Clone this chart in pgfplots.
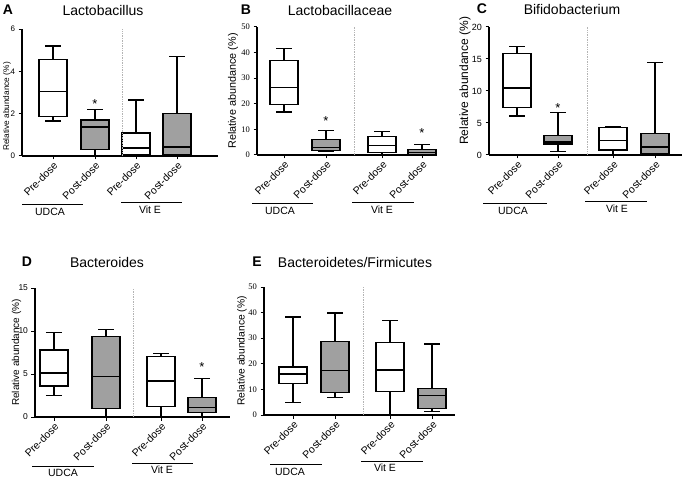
\documentclass[border=0pt]{standalone}
\usepackage{fontspec}
\setmainfont{Liberation Sans}
\newfontfamily\tnr{Liberation Serif}
\usepackage{pgfplots}
\pgfplotsset{compat=1.18}
\usepgfplotslibrary{statistics}
\definecolor{boxgray}{HTML}{A0A0A0}
\definecolor{sepgray}{HTML}{B4B4B4}
\newcommand\fs[1]{\fontsize{#1}{#1}\selectfont}

\tikzset{sepline/.style={sepgray, densely dotted, line width=0.7pt},
  star/.style={font=\fs{13}, inner sep=0pt}}
\pgfplotsset{
  panel/.style={
    scale only axis, anchor=south west, clip=false,
    axis x line=bottom, axis y line=left,
    axis line style={-, line width=1.3pt, black},
    ymin=0, tick align=outside, major tick length=3.5pt,
    tick style={black, line width=1pt},
    /pgf/number format/assume math mode=true,
    xticklabels={Pre-dose,Post-dose,Pre-dose,Post-dose},
    xticklabel style={rotate=45, anchor=north east, font=\fs{10.5}, inner sep=1pt},
    ylabel={Relative abundance (\%)},
    boxplot/draw direction=y,
    boxplot/box extend=2.8,
    boxplot/whisker extend=1.6,
    boxplot/every median/.style={line width=1.5pt},
  },
  wbox/.style={draw=black, fill=white, line width=1.3pt},
  gbox/.style={draw=black, fill=boxgray, line width=1.3pt},
}

\begin{document}
\begin{tikzpicture}
\path[use as bounding box] (0,0) rectangle (685pt,-478pt);

% A: Lactobacillus (x in tenths of a pixel column)
\begin{axis}[panel, at={(22pt,-156pt)}, width=196pt, height=127pt,
  xmin=2.2, xmax=21.8, ymax=6, ytick={0,2,4,6}, xtick={5.3,9.5,13.6,17.7},
  yticklabel style={font=\fs{8}},
  ylabel style={at={(axis description cs:-0.077,0.39)}, anchor=center, font=\fs{8.3}}]
\addplot+[wbox, boxplot prepared={draw position=5.3, lower whisker=1.65, lower quartile=1.88, median=3.05, upper quartile=4.55, upper whisker=5.2}] coordinates {};
\addplot+[gbox, boxplot prepared={draw position=9.5, lower whisker=0, lower quartile=0.32, median=1.38, upper quartile=1.70, upper whisker=2.2}] coordinates {};
\addplot+[wbox, boxplot prepared={draw position=13.6, lower whisker=0, lower quartile=0.08, median=0.38, upper quartile=1.08, upper whisker=2.65}] coordinates {};
\addplot+[gbox, boxplot prepared={draw position=17.7, lower whisker=0, lower quartile=0.05, median=0.42, upper quartile=2.02, upper whisker=4.7}] coordinates {};
\draw[sepline] (axis cs:12.2,0) -- (axis cs:12.2,6);
\node[star] at (axis cs:9.5,2.45) {*};
\end{axis}

% B: Lactobacillaceae
\begin{axis}[panel, at={(257pt,-155pt)}, width=180pt, height=128pt,
  xmin=25.7, xmax=43.7, ymax=50, ytick={0,10,...,50}, xtick={28.4,32.6,38.2,42.2},
  yticklabel style={font=\tnr\fs{8.5}},
  ylabel style={at={(axis description cs:-0.133,0.5)}, anchor=center, font=\fs{10.8}}]
\addplot+[wbox, boxplot prepared={draw position=28.4, lower whisker=16.8, lower quartile=19.7, median=26.4, upper quartile=36.8, upper whisker=41.5}] coordinates {};
\addplot+[gbox, boxplot prepared={draw position=32.6, lower whisker=1.5, lower quartile=1.8, median=3.0, upper quartile=6.0, upper whisker=9.5}] coordinates {};
\addplot+[wbox, boxplot prepared={draw position=38.2, lower whisker=0, lower quartile=1.0, median=3.7, upper quartile=7.3, upper whisker=9.1}] coordinates {};
\addplot+[gbox, boxplot prepared={draw position=42.2, lower whisker=0, lower quartile=0.3, median=1.0, upper quartile=2.2, upper whisker=4.0}] coordinates {};
\draw[sepline] (axis cs:35.4,0) -- (axis cs:35.4,50);
\node[star] at (axis cs:32.6,13.3) {*};
\node[star] at (axis cs:42.2,8.6) {*};
\end{axis}

% C: Bifidobacterium
\begin{axis}[panel, at={(489pt,-155pt)}, width=193pt, height=128pt,
  xmin=48.9, xmax=68.2, ymax=20, ytick={0,5,...,20}, xtick={51.7,55.8,61.3,65.5},
  yticklabel style={font=\fs{9}},
  ylabel style={at={(axis description cs:-0.124,0.58)}, anchor=center, font=\fs{12}}]
\addplot+[wbox, boxplot prepared={draw position=51.7, lower whisker=6.1, lower quartile=7.4, median=10.5, upper quartile=15.9, upper whisker=17.0}] coordinates {};
\addplot+[gbox, boxplot prepared={draw position=55.8, lower whisker=0.5, lower quartile=1.7, median=2.0, upper quartile=3.0, upper whisker=6.6}] coordinates {};
\addplot+[wbox, boxplot prepared={draw position=61.3, lower whisker=0, lower quartile=0.8, median=2.3, upper quartile=4.3, upper whisker=4.4}] coordinates {};
\addplot+[gbox, boxplot prepared={draw position=65.5, lower whisker=0, lower quartile=0.15, median=1.25, upper quartile=3.4, upper whisker=14.5}] coordinates {};
\draw[sepline] (axis cs:58.7,0) -- (axis cs:58.7,20);
\node[star] at (axis cs:55.8,7.3) {*};
\end{axis}

% D: Bacteroides
\begin{axis}[panel, at={(35pt,-417pt)}, width=195pt, height=129pt,
  xmin=3.5, xmax=23.0, ymax=15, ytick={0,5,10,15}, xtick={5.4,10.6,16.1,20.2},
  yticklabel style={font=\fs{8.5}},
  ylabel style={at={(axis description cs:-0.095,0.5)}, anchor=center, font=\fs{10}}]
\addplot+[wbox, boxplot prepared={draw position=5.4, lower whisker=2.5, lower quartile=3.6, median=5.1, upper quartile=7.8, upper whisker=9.8}] coordinates {};
\addplot+[gbox, boxplot prepared={draw position=10.6, lower whisker=0, lower quartile=1.0, median=4.7, upper quartile=9.4, upper whisker=10.2}] coordinates {};
\addplot+[wbox, boxplot prepared={draw position=16.1, lower whisker=0, lower quartile=1.2, median=4.2, upper quartile=7.0, upper whisker=7.4}] coordinates {};
\addplot+[gbox, boxplot prepared={draw position=20.2, lower whisker=0, lower quartile=0.55, median=1.1, upper quartile=2.3, upper whisker=4.5}] coordinates {};
\draw[sepline] (axis cs:13.3,0) -- (axis cs:13.3,15);
\node[star] at (axis cs:20.2,5.8) {*};
\end{axis}

% E: Bacteroidetes/Firmicutes
\begin{axis}[panel, at={(264pt,-415pt)}, width=191pt, height=128pt,
  xmin=26.4, xmax=45.5, ymax=50, ytick={0,10,...,50}, xtick={29.3,33.5,39.0,43.2},
  yticklabel style={font=\tnr\fs{8.5}},
  ylabel style={at={(axis description cs:-0.115,0.5)}, anchor=center, font=\fs{10.3}}]
\addplot+[wbox, boxplot prepared={draw position=29.3, lower whisker=5.0, lower quartile=12.2, median=16.1, upper quartile=18.8, upper whisker=38.3}] coordinates {};
\addplot+[gbox, boxplot prepared={draw position=33.5, lower whisker=6.8, lower quartile=8.9, median=17.4, upper quartile=28.7, upper whisker=39.8}] coordinates {};
\addplot+[wbox, boxplot prepared={draw position=39.0, lower whisker=0, lower quartile=9.3, median=17.6, upper quartile=28.4, upper whisker=36.8}] coordinates {};
\addplot+[gbox, boxplot prepared={draw position=43.2, lower whisker=1.3, lower quartile=2.6, median=7.7, upper quartile=10.3, upper whisker=27.7}] coordinates {};
\draw[sepline] (axis cs:36.3,0) -- (axis cs:36.3,50);
\end{axis}

% panel letters and titles
\node[font=\bfseries\fs{14}] at (8pt,-10pt) {A};
\node[font=\fs{14}] at (103pt,-10pt) {Lactobacillus};
\node[font=\bfseries\fs{14}] at (246pt,-10pt) {B};
\node[font=\fs{14}] at (340pt,-10pt) {Lactobacillaceae};
\node[font=\bfseries\fs{14}] at (482pt,-9pt) {C};
\node[font=\fs{14}] at (572pt,-9pt) {Bifidobacterium};
\node[font=\bfseries\fs{14}] at (27pt,-262pt) {D};
\node[font=\fs{14}] at (107pt,-262pt) {Bacteroides};
\node[font=\bfseries\fs{14}] at (257pt,-262pt) {E};
\node[font=\fs{14}] at (355pt,-262pt) {Bacteroidetes/Firmicutes};

% group brackets
\begin{scope}[line width=0.8pt]
\draw (22pt,-204pt) -- (83pt,-204pt);   \node[font=\fs{10.5}] at (50pt,-212pt) {UDCA};
\draw (121pt,-202pt) -- (182pt,-202pt); \node[font=\fs{10.5}] at (150pt,-210pt) {Vit E};
\draw (252pt,-203pt) -- (313pt,-203pt); \node[font=\fs{10.5}] at (280pt,-211pt) {UDCA};
\draw (352pt,-202pt) -- (414pt,-202pt); \node[font=\fs{10.5}] at (382pt,-210pt) {Vit E};
\draw (483pt,-203pt) -- (547pt,-203pt); \node[font=\fs{10.5}] at (513pt,-211pt) {UDCA};
\draw (585pt,-201pt) -- (647pt,-201pt); \node[font=\fs{10.5}] at (617pt,-209pt) {Vit E};
\draw (32pt,-466pt) -- (94pt,-466pt);   \node[font=\fs{10.5}] at (63pt,-473pt) {UDCA};
\draw (132pt,-463pt) -- (193pt,-463pt); \node[font=\fs{10.5}] at (162pt,-470pt) {Vit E};
\draw (270pt,-464pt) -- (322pt,-464pt); \node[font=\fs{10.5}] at (290pt,-472pt) {UDCA};
\draw (361pt,-461pt) -- (423pt,-461pt); \node[font=\fs{10.5}] at (385pt,-468pt) {Vit E};
\end{scope}
\end{tikzpicture}
\end{document}
